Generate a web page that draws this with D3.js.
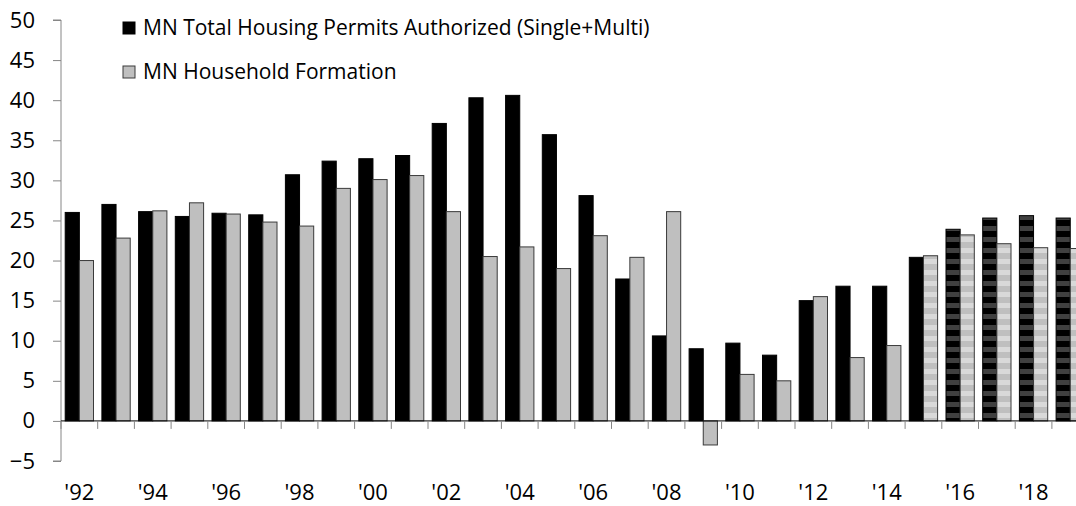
<!DOCTYPE html>
<html>
<head>
<meta charset="utf-8">
<script src="https://cdn.jsdelivr.net/npm/d3@7"></script>
<style>
  body { margin: 0; background: #fff; }
  svg { display: block; font-family: "Open Sans", sans-serif; }
</style>
</head>
<body>
<div id="chart"></div>
<script>
// years 1992..2019
var years = [1992, 1993, 1994, 1995, 1996, 1997, 1998, 1999, 2000, 2001,
  2002, 2003, 2004, 2005, 2006, 2007, 2008, 2009, 2010, 2011,
  2012, 2013, 2014, 2015, 2016, 2017, 2018, 2019]

var permits = [26.0, 27.0, 26.1, 25.5, 25.9, 25.7, 30.7, 32.4, 32.7, 33.1,
  37.1, 40.3, 40.6, 35.7, 28.1, 17.7, 10.6, 9.0, 9.7, 8.2,
  15.0, 16.8, 16.8, 20.4, 23.9, 25.3, 25.6, 25.3]

var households = [20.0, 22.8, 26.2, 27.2, 25.8, 24.8, 24.3, 29.0, 30.1, 30.6,
  26.1, 20.5, 21.7, 19.0, 23.1, 20.4, 26.1, -3.0, 5.8, 5.0,
  15.5, 7.9, 9.4, 20.6, 23.2, 22.1, 21.6, 21.5]

// first forecast year for each series (striped bars)
var permitsForecastFrom = 2016
var householdsForecastFrom = 2015

var yTicks = [-5, 0, 5, 10, 15, 20, 25, 30, 35, 40, 45, 50]
var legendLabels = ["MN Total Housing Permits Authorized (Single+Multi)", "MN Household Formation"]

var width = 1076,
  height = 506

var svg = d3.select("#chart").append("svg")
  .attr("width", width)
  .attr("height", height)

var defs = svg.append("defs")

var p1 = defs.append("pattern")
  .attr("id", "stripeDark")
  .attr("patternUnits", "userSpaceOnUse")
  .attr("width", 10).attr("height", 11)
p1.append("rect").attr("width", 10).attr("height", 11).attr("fill", "#000")
p1.append("rect").attr("y", 6).attr("width", 10).attr("height", 5).attr("fill", "#404040")

var p2 = defs.append("pattern")
  .attr("id", "stripeLight")
  .attr("patternUnits", "userSpaceOnUse")
  .attr("width", 10).attr("height", 11)
p2.append("rect").attr("width", 10).attr("height", 11).attr("fill", "#bfbfbf")
p2.append("rect").attr("y", 6).attr("width", 10).attr("height", 5).attr("fill", "#d9d9d9")

var left = 61
var step = 36.7

var x = d3.scaleBand()
  .domain(years)
  .range([left, left + step * years.length])

var sub = d3.scaleBand()
  .domain(["p", "h"])
  .range([4.2, step - 4.2])

var y = d3.scaleLinear()
  .domain([-5, 50])
  .range([461, 20])

// y axis
var yAxis = svg.append("g")
  .attr("transform", "translate(" + left + ",0)")
  .call(d3.axisLeft(y).tickValues(yTicks).tickSize(8).tickPadding(18))
yAxis.select(".domain").attr("stroke", "#868686").attr("d", "M-8," + y(50) + "H0V" + y(-5) + "H-8")
yAxis.selectAll(".tick line").attr("stroke", "#868686")
yAxis.selectAll(".tick text")
  .attr("font-size", 22)
  .attr("font-family", "Open Sans")
  .attr("fill", "#000")

// bars
var groups = svg.append("g").selectAll("g")
  .data(years)
  .enter().append("g")
  .attr("transform", function(d) { return "translate(" + x(d) + ",0)" })

groups.append("rect")
  .attr("x", sub("p"))
  .attr("width", sub.bandwidth())
  .attr("y", function(d, i) { return y(Math.max(0, permits[i])) })
  .attr("height", function(d, i) { return Math.abs(y(permits[i]) - y(0)) })
  .attr("fill", function(d) { return d >= permitsForecastFrom ? "url(#stripeDark)" : "#000" })
  .attr("stroke", "#000")
  .attr("stroke-width", 1)

groups.append("rect")
  .attr("x", sub("h"))
  .attr("width", sub.bandwidth())
  .attr("y", function(d, i) { return y(Math.max(0, households[i])) })
  .attr("height", function(d, i) { return Math.abs(y(households[i]) - y(0)) })
  .attr("fill", function(d) { return d >= householdsForecastFrom ? "url(#stripeLight)" : "#bfbfbf" })
  .attr("stroke", "#3a3a3a")
  .attr("stroke-width", 1)

// x axis at zero
var xAxis = svg.append("g")
  .attr("transform", "translate(0," + y(0) + ")")
xAxis.append("line")
  .attr("x1", left).attr("x2", width)
  .attr("stroke", "#000").attr("stroke-width", 1)
xAxis.selectAll(".tk")
  .data(years)
  .enter().append("line")
  .attr("class", "tk")
  .attr("x1", function(d) { return x(d) }).attr("x2", function(d) { return x(d) })
  .attr("y1", 0).attr("y2", 8)
  .attr("stroke", "#868686")

svg.append("g").selectAll("text")
  .data(years.filter(function(d) { return d % 2 === 0 }))
  .enter().append("text")
  .attr("x", function(d) { return x(d) + x.bandwidth() / 2 })
  .attr("y", 492)
  .attr("dy", "0.35em")
  .attr("text-anchor", "middle")
  .attr("font-size", 22)
  .text(function(d) { return "'" + String(d).slice(2) })

// legend
var legend = svg.append("g").selectAll("g")
  .data(legendLabels)
  .enter().append("g")
  .attr("transform", function(d, i) { return "translate(123," + (28 + i * 44) + ")" })

legend.append("rect")
  .attr("x", 0).attr("y", -6)
  .attr("width", 12).attr("height", 12)
  .attr("fill", function(d, i) { return i ? "#bfbfbf" : "#000" })
  .attr("stroke", function(d, i) { return i ? "#3a3a3a" : "#000" })

legend.append("text")
  .attr("x", 20)
  .attr("dy", "0.35em")
  .attr("font-size", 21)
  .text(function(d) { return d })
</script>
</body>
</html>
